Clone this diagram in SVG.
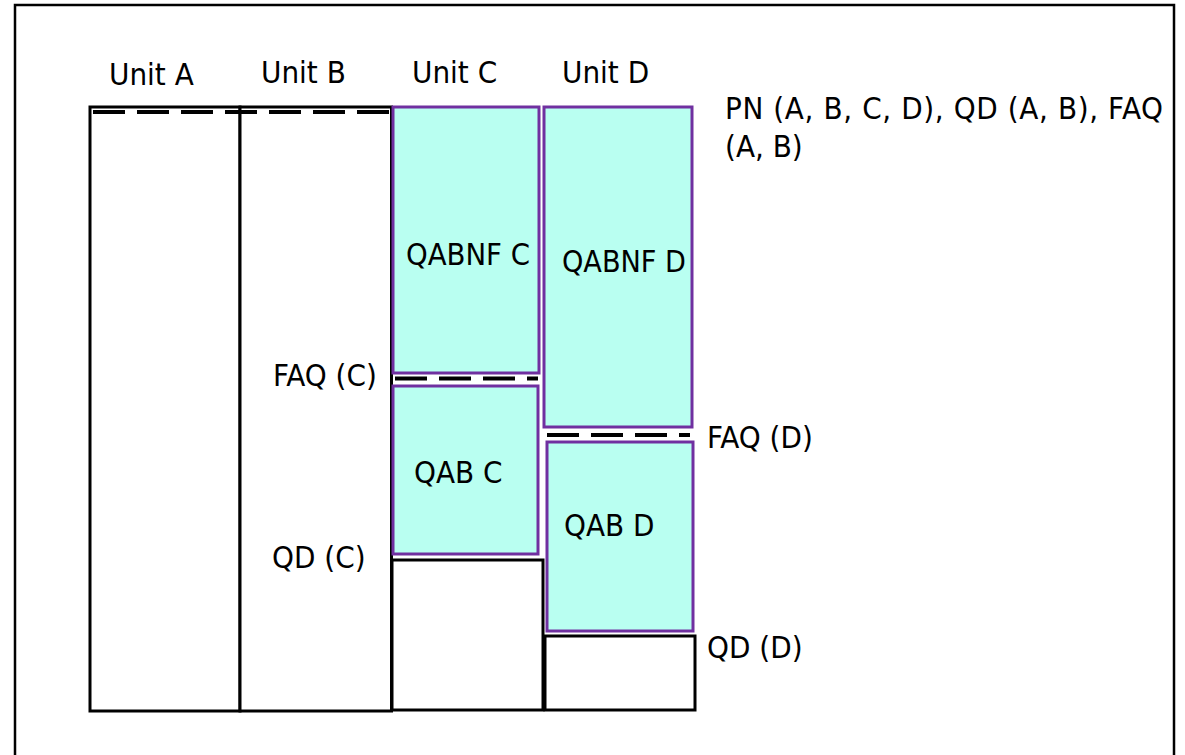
<svg xmlns="http://www.w3.org/2000/svg" width="1185" height="755" viewBox="0 0 1185 755">
<style>
.t{font-family:"DejaVu Sans Condensed","DejaVu Sans",sans-serif;font-size:31px;fill:#000}
.bk{fill:#fff;stroke:#000;stroke-width:3}
.cy{fill:#B9FFF1;stroke:#7030A0;stroke-width:3}
.ds{stroke:#000;stroke-width:4;stroke-dasharray:32 12;fill:none}
</style>
<rect x="0" y="0" width="1185" height="755" fill="#fff"/>
<rect x="15" y="5" width="1159" height="770" fill="none" stroke="#000" stroke-width="2.5"/>
<g id="unitA"><rect class="bk" x="90" y="107" width="150" height="604"/><text class="t" x="109" y="85">Unit A</text></g>
<g id="unitB"><rect class="bk" x="240" y="107" width="151.5" height="604" stroke-width="3.5"/><text class="t" x="261" y="83">Unit B</text></g>
<g id="unitC"><text class="t" x="412" y="83">Unit C</text></g>
<g id="unitD"><text class="t" x="562" y="83">Unit D</text></g>
<g id="qabnfC"><rect class="cy" x="393" y="107" width="146" height="266"/><text class="t" x="406" y="265" textLength="124" lengthAdjust="spacingAndGlyphs">QABNF C</text></g>
<g id="qabC"><rect class="cy" x="393" y="386" width="145" height="168"/><text class="t" x="414" y="483">QAB C</text></g>
<g id="restC"><rect class="bk" x="392" y="560" width="151" height="150"/></g>
<g id="qabnfD"><rect class="cy" x="544" y="107" width="148" height="320"/><text class="t" x="562" y="272" textLength="124" lengthAdjust="spacingAndGlyphs">QABNF D</text></g>
<g id="qabD"><rect class="cy" x="547" y="442" width="146" height="189"/><text class="t" x="564" y="536">QAB D</text></g>
<g id="restD"><rect class="bk" x="545" y="636" width="150" height="74"/></g>
<g id="connectors">
<line class="ds" x1="93" y1="112" x2="390" y2="112"/>
<line class="ds" x1="395" y1="378.5" x2="538" y2="378.5"/>
<line class="ds" x1="547" y1="435" x2="690" y2="435"/>
</g>
<g id="labels">
<text class="t" x="725" y="119" textLength="438" lengthAdjust="spacing">PN (A, B, C, D), QD (A, B), FAQ</text>
<text class="t" x="725" y="157">(A, B)</text>
<text class="t" x="273" y="386">FAQ (C)</text>
<text class="t" x="707" y="448">FAQ (D)</text>
<text class="t" x="272" y="568">QD (C)</text>
<text class="t" x="707" y="658">QD (D)</text>
</g>
</svg>
